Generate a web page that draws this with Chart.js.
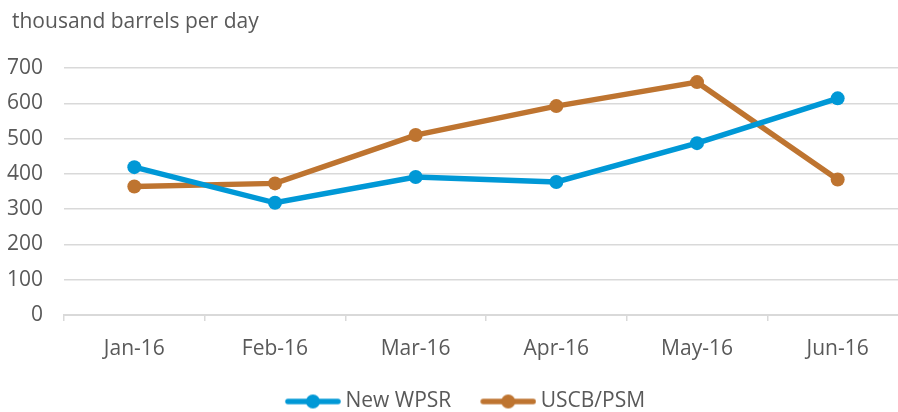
<!DOCTYPE html>
<html lang="en">
<head>
    <meta charset="UTF-8">
    <title>thousand barrels per day</title>
    <style>
        html, body { margin: 0; padding: 0; background: #fff; overflow: hidden; }
        #wrap { width: 932px; height: 412px; }
    </style>
</head>
<body>
    <div id="wrap"><canvas id="chart" width="932" height="412"></canvas></div>

    <script src="https://cdn.jsdelivr.net/npm/chart.js"></script>
    <script>
        var months = ['Jan-16', 'Feb-16', 'Mar-16', 'Apr-16', 'May-16', 'Jun-16'];
        var newWpsr = [419, 318, 391, 377, 487, 614];
        var uscbPsm = [364, 373, 510, 592, 660, 384];
        var yTicks = [0, 100, 200, 300, 400, 500, 600, 700];

        var BLUE = '#0098D6';
        var ORANGE = '#BE7430';
        var TEXT = '#595959';
        var GRID = '#D9D9D9';
        var FONT = 'Open Sans';
        var FSIZE = 21;

        // legend marker: short line with a dot, shifted right so it sits close to the text
        function legendMarker(color) {
            var k = 6;
            var c = document.createElement('canvas');
            c.width = 56 + 2 * k; c.height = 16;
            var g = c.getContext('2d');
            g.strokeStyle = color;
            g.lineWidth = 5.5;
            g.lineCap = 'round';
            g.beginPath();
            g.moveTo(2 * k + 3, 8); g.lineTo(2 * k + 53, 8);
            g.stroke();
            g.fillStyle = color;
            g.beginPath();
            g.arc(2 * k + 28, 8, 7, 0, Math.PI * 2);
            g.fill();
            return c;
        }

        // nudge the unit title and the legend a little to the right
        var nudge = {
            id: 'nudge',
            afterLayout: function (c) {
                if (c.titleBlock) c.titleBlock.left += 12;
                if (c.legend) { c.legend.left += 8; c.legend.right += 8; }
            }
        };

        var ctx = document.getElementById('chart').getContext('2d');
        var chart = new Chart(ctx, {
            type: 'line',
            data: {
                labels: months,
                datasets: [
                    {
                        label: 'New WPSR',
                        data: newWpsr,
                        borderColor: BLUE,
                        backgroundColor: BLUE,
                        borderWidth: 5.5,
                        pointRadius: 7,
                        pointHoverRadius: 7,
                        pointBorderWidth: 0,
                        tension: 0
                    },
                    {
                        label: 'USCB/PSM',
                        data: uscbPsm,
                        borderColor: ORANGE,
                        backgroundColor: ORANGE,
                        borderWidth: 5.5,
                        pointRadius: 7,
                        pointHoverRadius: 7,
                        pointBorderWidth: 0,
                        tension: 0
                    }
                ]
            },
            plugins: [nudge],
            options: {
                responsive: false,
                animation: false,
                layout: { padding: { left: 0, right: 24, top: 0, bottom: -10 } },
                plugins: {
                    title: {
                        display: true,
                        text: 'thousand barrels per day',
                        align: 'start',
                        color: TEXT,
                        font: { family: FONT, size: FSIZE, weight: 'normal' },
                        padding: { top: 9.4, bottom: 33.4 }
                    },
                    legend: {
                        position: 'bottom',
                        labels: {
                            color: TEXT,
                            font: { family: FONT, size: FSIZE },
                            usePointStyle: true,
                            pointStyleWidth: 56,
                            boxHeight: 16,
                            padding: 23,
                            generateLabels: function (c) {
                                return c.data.datasets.map(function (ds, i) {
                                    return {
                                        text: ds.label,
                                        pointStyle: legendMarker(ds.borderColor),
                                        fontColor: TEXT,
                                        lineWidth: 0,
                                        strokeStyle: 'transparent',
                                        fillStyle: ds.borderColor,
                                        datasetIndex: i
                                    };
                                });
                            }
                        }
                    },
                    tooltip: { enabled: false }
                },
                scales: {
                    x: {
                        offset: true,
                        afterFit: function (axis) { axis.height = 53; },
                        grid: {
                            offset: true,
                            drawOnChartArea: false,
                            drawTicks: true,
                            tickLength: 6,
                            color: GRID,
                            lineWidth: 1.5
                        },
                        border: { display: true, color: GRID, width: 2 },
                        ticks: {
                            color: TEXT,
                            font: { family: FONT, size: FSIZE },
                            padding: 15,
                            maxRotation: 0
                        }
                    },
                    y: {
                        min: 0,
                        max: 700,
                        afterBuildTicks: function (axis) {
                            axis.ticks = yTicks.map(function (v) { return { value: v }; });
                        },
                        afterFit: function (axis) { axis.width = 64; },
                        grid: {
                            color: function (c) { return c.tick && c.tick.value === 0 ? 'rgba(0,0,0,0)' : GRID; },
                            lineWidth: 1.5,
                            drawTicks: false
                        },
                        border: { display: false },
                        ticks: {
                            color: TEXT,
                            font: { family: FONT, size: FSIZE },
                            padding: 21
                        }
                    }
                }
            }
        });
    </script>
</body>
</html>
